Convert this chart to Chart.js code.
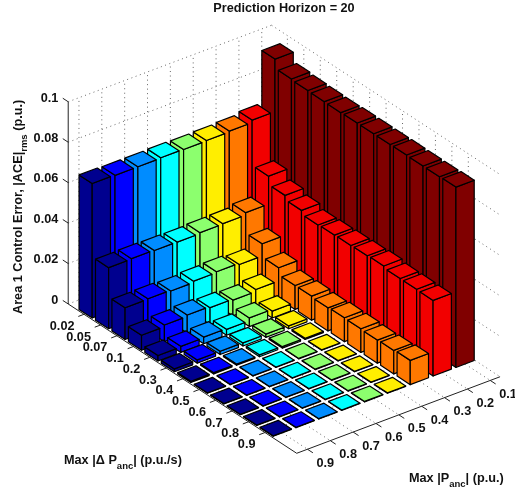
<!DOCTYPE html>
<html>
<head>
<meta charset="utf-8">
<style>
  html, body { margin: 0; padding: 0; background: #fff; }
  canvas { display: block; }
</style>
<script src="https://cdn.jsdelivr.net/npm/chart.js@4"></script>
</head>
<body>
<canvas id="bars" width="515" height="488"></canvas>
<script>
// categories
var rateLabels = ["0.02", "0.05", "0.07", "0.1", "0.2", "0.3", "0.4", "0.5", "0.6", "0.7", "0.8", "0.9"];
var capLabels = ["0.9", "0.8", "0.7", "0.6", "0.5", "0.4", "0.3", "0.2", "0.1"];
var zTicks = [0, 0.02, 0.04, 0.06, 0.08, 0.1];
var zTickLabels = ["0", "0.02", "0.04", "0.06", "0.08", "0.1"];

// one list per Max |Panc| value, rows follow rateLabels
var cap09 = [0.0665, 0.0302, 0.0157, 0.0074, 0.0027, 0.0014, 0.0006, 0.0002, 0.0002, 0.0002, 0.0002, 0.0002];
var cap08 = [0.0663, 0.0304, 0.0159, 0.0082, 0.0030, 0.0016, 0.0006, 0.0002, 0.0002, 0.0002, 0.0002, 0.0002];
var cap07 = [0.0663, 0.0302, 0.0155, 0.0089, 0.0033, 0.0016, 0.0006, 0.0002, 0.0002, 0.0002, 0.0002, 0.0002];
var cap06 = [0.0665, 0.0301, 0.0161, 0.0083, 0.0029, 0.0015, 0.0009, 0.0002, 0.0002, 0.0002, 0.0002, 0.0002];
var cap05 = [0.0663, 0.0305, 0.0165, 0.0078, 0.0043, 0.0016, 0.0007, 0.0002, 0.0002, 0.0002, 0.0002, 0.0002];
var cap04 = [0.0665, 0.0307, 0.0158, 0.0088, 0.0034, 0.0014, 0.0006, 0.0002, 0.0002, 0.0002, 0.0002, 0.0002];
var cap03 = [0.0669, 0.0319, 0.0218, 0.0153, 0.0118, 0.0119, 0.0114, 0.0118, 0.0117, 0.0114, 0.0116, 0.0120];
var cap02 = [0.0681, 0.0457, 0.0415, 0.0394, 0.0375, 0.0378, 0.0380, 0.0382, 0.0385, 0.0376, 0.0376, 0.0374];
var cap01 = [0.0940, 0.0895, 0.0891, 0.0889, 0.0888, 0.0890, 0.0890, 0.0890, 0.0891, 0.0890, 0.0890, 0.0892];
var seriesValues = [cap09, cap08, cap07, cap06, cap05, cap04, cap03, cap02, cap01];
var barColors = ["#00008f", "#0000ff", "#008cff", "#00ffff", "#8cff6e", "#ffee00", "#ff7800", "#f20000", "#800000"];

// 3d view: u runs along Panc, v along rate, both in bar index units
var uMin = 0.53, uMax = 9.43, vMin = 0.04, vMax = 13.93;
var zTop = 0.1;
var halfBar = 0.4;
var zScale = 2022, yZero = 300.3;

function viewX(u, v) {
  return 94.75 + 22.85 * (u - 1) + 16.45 * (v - 1);
}
function viewY(u, v, z) {
  return z - (310.25 - 8.6 * (u - 1) + 10.75 * (v - 1) - yZero) / zScale;
}
function pt(u, v, z) {
  return { x: viewX(u, v), y: viewY(u, v, z) };
}

function face(points, color) {
  return {
    data: points.concat([points[0]]),
    fill: "shape",
    backgroundColor: color,
    borderColor: "#000",
    borderWidth: 1.2,
    borderJoinStyle: "round",
    pointRadius: 0,
    tension: 0
  };
}
function dotted(a, b) {
  return { data: [a, b], fill: false, borderColor: "#666", borderWidth: 1, borderDash: [1, 3.5], pointRadius: 0 };
}
function solid(a, b) {
  return { data: [a, b], fill: false, borderColor: "#222", borderWidth: 1, pointRadius: 0 };
}

var backToFront = [];

// walls and floor grid
zTicks.forEach(function (z) {
  backToFront.push(dotted(pt(uMin, vMin, z), pt(uMax, vMin, z)));
  backToFront.push(dotted(pt(uMax, vMin, z), pt(uMax, vMax, z)));
});
capLabels.forEach(function (c, i) {
  var u = i + 1;
  backToFront.push(dotted(pt(u, vMin, 0), pt(u, vMin, zTop)));
  backToFront.push(dotted(pt(u, vMin, 0), pt(u, vMax, 0)));
});
rateLabels.forEach(function (r, i) {
  var v = i + 1;
  backToFront.push(dotted(pt(uMax, v, 0), pt(uMax, v, zTop)));
  backToFront.push(dotted(pt(uMin, v, 0), pt(uMax, v, 0)));
});

// axis lines and tick marks
backToFront.push(solid(pt(uMin, vMin, 0), pt(uMin, vMin, zTop)));
backToFront.push(solid(pt(uMin, vMin, 0), pt(uMin, vMax, 0)));
backToFront.push(solid(pt(uMin, vMax, 0), pt(uMax, vMax, 0)));
zTicks.forEach(function (z) {
  backToFront.push(solid(pt(uMin, vMin, z), pt(uMin, vMin - 0.33, z)));
});
rateLabels.forEach(function (r, i) {
  backToFront.push(solid(pt(uMin, i + 1, 0), pt(uMin - 0.25, i + 1, 0)));
});
capLabels.forEach(function (c, i) {
  backToFront.push(solid(pt(i + 1, vMax, 0), pt(i + 1, vMax + 0.33, 0)));
});

// bars, far ones first so the near ones cover them
for (var c = capLabels.length - 1; c >= 0; c--) {
  for (var r = 0; r < rateLabels.length; r++) {
    var u = c + 1, v = r + 1, h = seriesValues[c][r], col = barColors[c];
    var u0 = u - halfBar, u1 = u + halfBar, v0 = v - halfBar, v1 = v + halfBar;
    backToFront.push(face([pt(u0, v0, 0), pt(u0, v1, 0), pt(u0, v1, h), pt(u0, v0, h)], col));
    backToFront.push(face([pt(u0, v1, 0), pt(u1, v1, 0), pt(u1, v1, h), pt(u0, v1, h)], col));
    backToFront.push(face([pt(u0, v0, h), pt(u0, v1, h), pt(u1, v1, h), pt(u1, v0, h)], col));
  }
}

var boldFont = "bold 12.7px 'Liberation Sans'";
var subFont = "bold 9.5px 'Liberation Sans'";
var textColor = "#111";

// text with a lowered subscript part, laid out left to right from 0,0
function richText(ctx, parts) {
  var x = 0;
  ctx.textAlign = "left";
  parts.forEach(function (p) {
    ctx.font = p.sub ? subFont : boldFont;
    ctx.fillText(p.text, x, p.sub ? 6 : 0);
    x += ctx.measureText(p.text).width;
  });
}

var axisText = {
  id: "axisText",
  afterDraw: function (chart) {
    var ctx = chart.ctx, sx = chart.scales.x, sy = chart.scales.y;
    ctx.save();
    ctx.fillStyle = textColor;
    ctx.textBaseline = "middle";
    ctx.font = boldFont;

    ctx.textAlign = "right";
    rateLabels.forEach(function (t, i) {
      var p = pt(uMin, i + 1, 0);
      ctx.fillText(t, sx.getPixelForValue(p.x) - 9.5, sy.getPixelForValue(p.y) + 12.2);
    });
    ctx.textAlign = "left";
    capLabels.forEach(function (t, i) {
      var p = pt(i + 1, vMax, 0);
      ctx.fillText(t, sx.getPixelForValue(p.x) + 9, sy.getPixelForValue(p.y) + 14);
    });

    ctx.textAlign = "center";
    ctx.fillText("Prediction Horizon = 20", 284, 8);

    ctx.save();
    ctx.translate(64, 460);
    richText(ctx, [{ text: "Max |\u0394 P" }, { text: "anc", sub: true }, { text: "| (p.u./s)" }]);
    ctx.restore();

    ctx.save();
    ctx.translate(409, 478);
    richText(ctx, [{ text: "Max |P" }, { text: "anc", sub: true }, { text: "| (p.u.)" }]);
    ctx.restore();

    ctx.save();
    ctx.translate(18, 314);
    ctx.rotate(-Math.PI / 2);
    richText(ctx, [{ text: "Area 1 Control Error, |ACE|" }, { text: "rms", sub: true }, { text: " (p.u.)" }]);
    ctx.restore();

    ctx.restore();
  }
};

var ctx = document.getElementById("bars").getContext("2d");
window.barChart = new Chart(ctx, {
  type: "line",
  data: { datasets: backToFront.slice().reverse() },
  plugins: [axisText],
  options: {
    responsive: false,
    animation: false,
    events: [],
    clip: false,
    layout: { padding: 0, autoPadding: false },
    plugins: { legend: { display: false }, tooltip: { enabled: false }, title: { display: false } },
    scales: {
      x: { type: "linear", display: false, min: 68.3, max: 515 },
      y: {
        type: "linear",
        position: "left",
        min: (yZero - 488) / zScale,
        max: yZero / zScale,
        grid: { display: false, drawTicks: false },
        border: { display: false },
        // tick padding must not shrink the plot, the view constants are in page pixels
        afterFit: function (scale) {
          scale.width = 68.3;
          scale.paddingTop = 0;
          scale.paddingBottom = 0;
        },
        afterBuildTicks: function (scale) {
          scale.ticks = zTicks.map(function (z) { return { value: z }; });
        },
        ticks: {
          autoSkip: false,
          maxRotation: 0,
          padding: 10,
          color: textColor,
          font: { family: "'Liberation Sans'", size: 12.7, weight: "bold" },
          callback: function (value, index) { return zTickLabels[index]; }
        }
      }
    }
  }
});
</script>
</body>
</html>
